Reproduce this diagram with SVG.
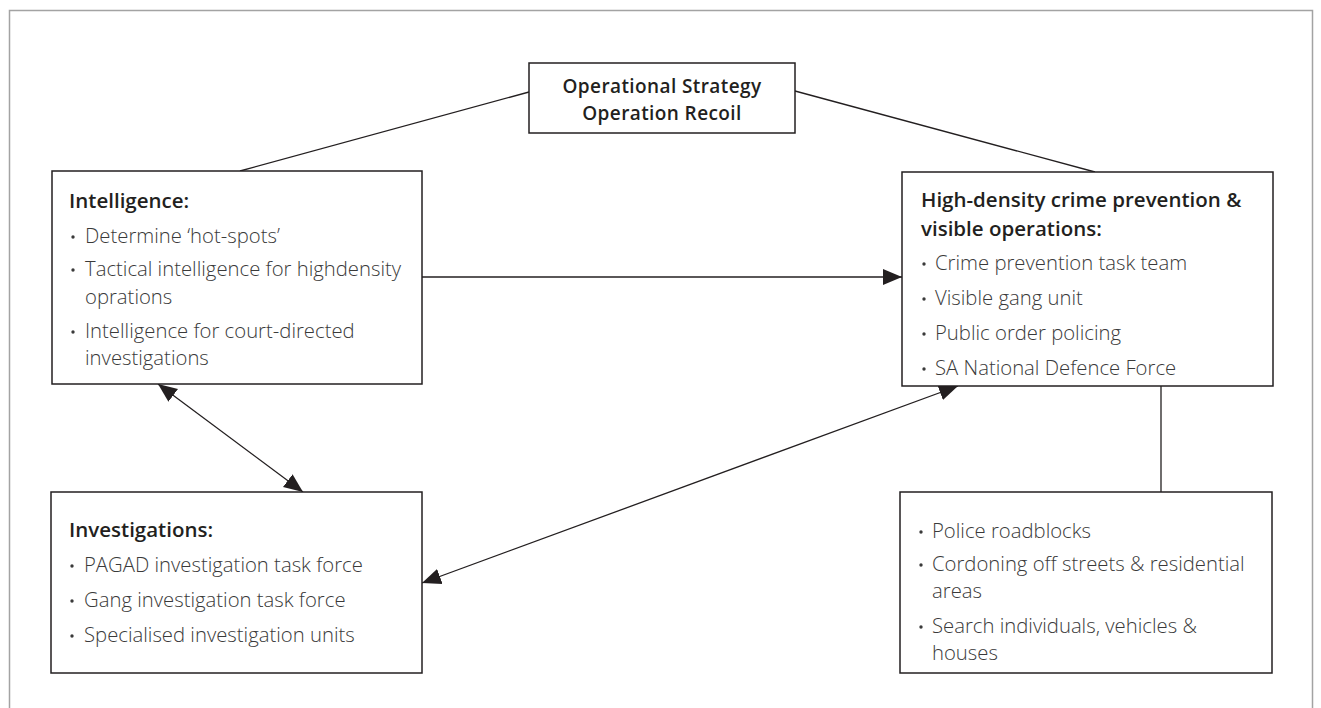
<svg xmlns="http://www.w3.org/2000/svg" width="1321" height="708" viewBox="0 0 1321 708">
  <style>
    .frame { fill: none; stroke: #a3a3a3; stroke-width: 1.5; }
    .box { fill: #ffffff; stroke: #231f20; stroke-width: 1.5; }
    .link { fill: none; stroke: #231f20; stroke-width: 1.3; }
    .title { font-family: "Open Sans", "Liberation Sans", sans-serif; font-weight: 600; font-size: 19px; letter-spacing: 0.4px; fill: #231f20; text-anchor: middle; }
    .head { font-family: "Open Sans", "Liberation Sans", sans-serif; font-weight: 600; font-size: 20.5px; fill: #231f20; }
    .item { font-family: "Open Sans", "Liberation Sans", sans-serif; font-weight: 300; font-size: 20.3px; fill: #3a3a3a; }
    .dot { fill: #3a3a3a; }
  </style>
  <defs>
    <marker id="tip" markerUnits="userSpaceOnUse" markerWidth="20" markerHeight="18" viewBox="0 0 20 18" refX="19" refY="9" orient="auto-start-reverse">
      <path d="M0,1 L19,9 L0,17 Z" fill="#231f20"/>
    </marker>
  </defs>

  <rect width="1321" height="708" fill="#ffffff"/>
  <!-- figure frame, open at the bottom -->
  <path class="frame" d="M9.5,720 V10.5 H1312.5 V720"/>

  <!-- connectors -->
  <g id="connectors">
    <line class="link" x1="240" y1="171" x2="529" y2="92"/>
    <line class="link" x1="795" y1="91" x2="1095" y2="172"/>
    <line class="link" x1="422" y1="277" x2="902" y2="277" marker-end="url(#tip)"/>
    <line class="link" x1="158" y1="384" x2="303" y2="492" marker-start="url(#tip)" marker-end="url(#tip)"/>
    <line class="link" x1="422" y1="583" x2="958" y2="386" marker-start="url(#tip)" marker-end="url(#tip)"/>
    <line class="link" x1="1161" y1="386" x2="1161" y2="492"/>
  </g>

  <!-- top node -->
  <g id="strategy">
    <rect class="box" x="529" y="63" width="266" height="70"/>
    <text class="title" x="662" y="93">Operational Strategy</text>
    <text class="title" x="662" y="120">Operation Recoil</text>
  </g>

  <!-- intelligence -->
  <g id="intelligence">
    <rect class="box" x="52" y="171" width="370" height="213"/>
    <text class="head" x="69" y="208">Intelligence:</text>
    <circle class="dot" cx="73" cy="237" r="1.7"/>
    <text class="item" x="85" y="243">Determine ‘hot-spots’</text>
    <circle class="dot" cx="73" cy="270" r="1.7"/>
    <text class="item" x="85" y="276">Tactical intelligence for highdensity</text>
    <text class="item" x="85" y="304">oprations</text>
    <circle class="dot" cx="73" cy="332" r="1.7"/>
    <text class="item" x="85" y="338">Intelligence for court-directed</text>
    <text class="item" x="85" y="365">investigations</text>
  </g>

  <!-- high-density operations -->
  <g id="high-density">
    <rect class="box" x="902" y="172" width="371" height="214"/>
    <text class="head" x="921" y="207">High-density crime prevention &amp;</text>
    <text class="head" x="921" y="236">visible operations:</text>
    <circle class="dot" cx="924" cy="264" r="1.7"/>
    <text class="item" x="935" y="270">Crime prevention task team</text>
    <circle class="dot" cx="924" cy="299" r="1.7"/>
    <text class="item" x="935" y="305">Visible gang unit</text>
    <circle class="dot" cx="924" cy="334" r="1.7"/>
    <text class="item" x="935" y="340">Public order policing</text>
    <circle class="dot" cx="924" cy="369" r="1.7"/>
    <text class="item" x="935" y="375">SA National Defence Force</text>
  </g>

  <!-- investigations -->
  <g id="investigations">
    <rect class="box" x="51" y="492" width="371" height="181"/>
    <text class="head" x="69" y="537">Investigations:</text>
    <circle class="dot" cx="72" cy="566" r="1.7"/>
    <text class="item" x="84" y="572">PAGAD investigation task force</text>
    <circle class="dot" cx="72" cy="601" r="1.7"/>
    <text class="item" x="84" y="607">Gang investigation task force</text>
    <circle class="dot" cx="72" cy="636" r="1.7"/>
    <text class="item" x="84" y="642">Specialised investigation units</text>
  </g>

  <!-- visible operations detail -->
  <g id="operations-detail">
    <rect class="box" x="900" y="492" width="372" height="181"/>
    <circle class="dot" cx="921" cy="532" r="1.7"/>
    <text class="item" x="932" y="538">Police roadblocks</text>
    <circle class="dot" cx="921" cy="565" r="1.7"/>
    <text class="item" x="932" y="571">Cordoning off streets &amp; residential</text>
    <text class="item" x="932" y="598">areas</text>
    <circle class="dot" cx="921" cy="627" r="1.7"/>
    <text class="item" x="932" y="633">Search individuals, vehicles &amp;</text>
    <text class="item" x="932" y="660">houses</text>
  </g>
</svg>
